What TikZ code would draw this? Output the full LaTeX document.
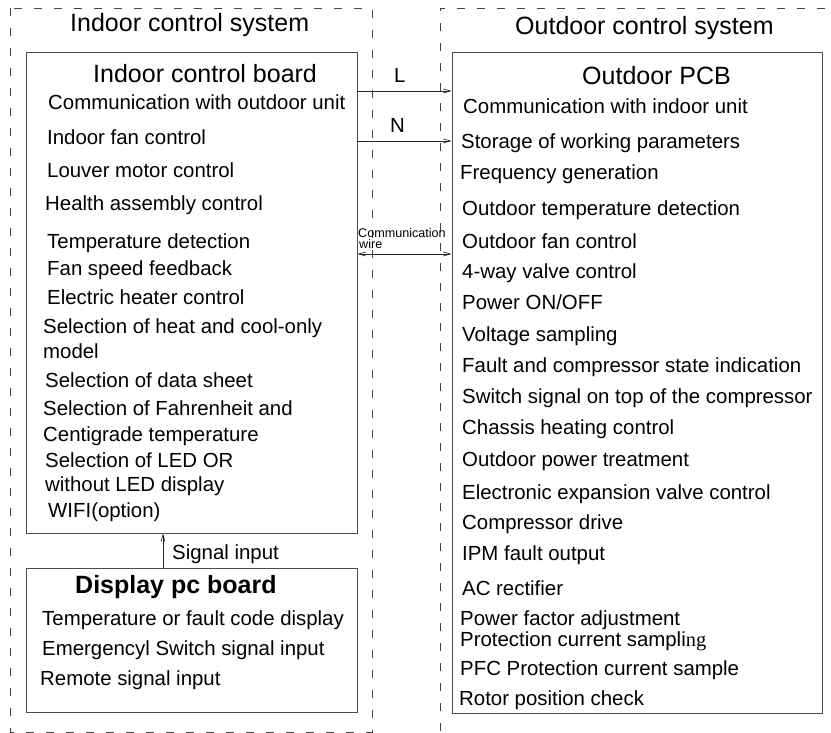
\documentclass[tikz,border=0pt]{standalone}
\usepackage{fontspec}
\setmainfont{Liberation Sans}
\newfontfamily\serifpart{Liberation Serif}
\usetikzlibrary{arrows.meta}

\begin{document}
\begin{tikzpicture}[x=1pt, y=-1pt,
  >={Straight Barb[length=7pt,width=4pt]},
  frame/.style={draw=black!75, dash pattern=on 8pt off 12pt, line width=0.7pt},
  board/.style={rectangle, draw=black!70, line width=0.8pt, inner sep=0pt},
  title/.style={anchor=base west, inner sep=0pt, font=\fontsize{25}{30}\selectfont},
  item/.style={anchor=base west, inner sep=0pt, font=\fontsize{20.4}{24}\selectfont},
  small/.style={anchor=base west, inner sep=0pt, font=\fontsize{12.6}{14}\selectfont},
  wire/.style={draw=black!85, line width=0.7pt}]
 \useasboundingbox (0, 0) rectangle (831, 733);
 \clip (0, 0) rectangle (831, 733);

 % dashed system frames
 \draw [frame] (10, 8) rectangle (372, 732);
 \draw [frame] (845, 8) -| (440, 745);
 \node [title] (IS) at (70, 32) {Indoor control system};
 \node [title] (OS) at (515, 35) {Outdoor control system};

 % boards
 \node [board, minimum width=331pt, minimum height=481pt] (IB) at (191.5, 292.5) {};
 \node [board, minimum width=370pt, minimum height=661pt] (OB) at (637, 382.5) {};
 \node [board, minimum width=331pt, minimum height=144pt] (DB) at (191.5, 640) {};
 \node [title] (IBt) at (93, 83) {Indoor control board};
 \node [title] (OBt) at (582, 85) {Outdoor PCB};
 \node [title, font=\fontsize{25}{30}\selectfont\bfseries] (DBt) at (75, 593) {Display pc board};

 % indoor control board
 \node [item] (i1) at (48, 110) {Communication with outdoor unit};
 \node [item] (i2) at (47, 145) {Indoor fan control};
 \node [item] (i3) at (47, 178) {Louver motor control};
 \node [item] (i4) at (45, 211) {Health assembly control};
 \node [item] (i5) at (47, 248) {Temperature detection};
 \node [item] (i6) at (47, 276) {Fan speed feedback};
 \node [item] (i7) at (47, 305) {Electric heater control};
 \node [item] (i8) at (43, 334) {Selection of heat and cool-only};
 \node [item] (i9) at (43, 358) {model};
 \node [item] (i10) at (45, 387) {Selection of data sheet};
 \node [item] (i11) at (43, 415) {Selection of Fahrenheit and};
 \node [item] (i12) at (43, 441) {Centigrade temperature};
 \node [item] (i13) at (45, 467) {Selection of LED OR};
 \node [item] (i14) at (45, 491) {without LED display};
 \node [item] (i15) at (48, 517) {WIFI(option)};

 % display board
 \node [item] (d1) at (42, 625) {Temperature or fault code display};
 \node [item] (d2) at (42, 655) {Emergencyl Switch signal input};
 \node [item] (d3) at (40, 685) {Remote signal input};

 % outdoor PCB
 \node [item] (o1) at (463, 114) {Communication with indoor unit};
 \node [item] (o2) at (461, 149) {Storage of working parameters};
 \node [item] (o3) at (460, 180) {Frequency generation};
 \node [item] (o4) at (462, 216) {Outdoor temperature detection};
 \node [item] (o5) at (462, 248) {Outdoor fan control};
 \node [item] (o6) at (462, 279) {4-way valve control};
 \node [item] (o7) at (462, 309) {Power ON/OFF};
 \node [item] (o8) at (462, 341) {Voltage sampling};
 \node [item] (o9) at (462, 372) {Fault and compressor state indication};
 \node [item] (o10) at (462, 403) {Switch signal on top of the compressor};
 \node [item] (o11) at (462, 434) {Chassis heating control};
 \node [item] (o12) at (462, 466) {Outdoor power treatment};
 \node [item] (o13) at (462, 499) {Electronic expansion valve control};
 \node [item] (o14) at (462, 529) {Compressor drive};
 \node [item] (o15) at (462, 560) {IPM fault output};
 \node [item] (o16) at (462, 595) {AC rectifier};
 \node [item] (o17) at (460, 625) {Power factor adjustment};
 \node [item] (o18) at (460, 646) {Protection current sampli{\serifpart ng}};
 \node [item] (o19) at (460, 675) {PFC Protection current sample};
 \node [item] (o20) at (459, 705) {Rotor position check};

 % connections
 \coordinate (Lrow) at (0, 91);
 \coordinate (Nrow) at (0, 141);
 \coordinate (Crow) at (0, 254);
 \coordinate (Scol) at (163, 0);
 \draw [wire, ->] (IB.east |- Lrow) -- (OB.west |- Lrow);
 \draw [wire, ->] (IB.east |- Nrow) -- (OB.west |- Nrow);
 \draw [wire, <->] (IB.east |- Crow) -- (OB.west |- Crow);
 \draw [wire, ->] (DB.north -| Scol) -- (IB.south -| Scol);
 \node [item] (Lt) at (394, 83) {L};
 \node [item] (Nt) at (390, 133) {N};
 \node [small] (Ct) at (358, 237) {Communication};
 \node [small] (Wt) at (359, 248) {wire};
 \node [item] (St) at (172, 559) {Signal input};
\end{tikzpicture}
\end{document}
